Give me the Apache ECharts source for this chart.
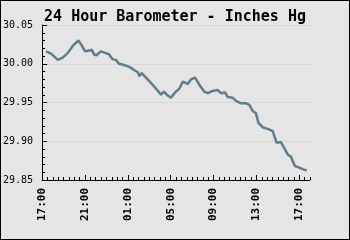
<!DOCTYPE html>
<html>
<head>
<meta charset="utf-8">
<script src="https://cdn.jsdelivr.net/npm/echarts@6/dist/echarts.min.js"></script>
<style>
  html, body { margin: 0; padding: 0; background: #e5e5e5; }
  #wrap { position: relative; width: 350px; height: 240px; box-sizing: border-box; border: 1px solid #000; overflow: hidden; }
  #chart { position: absolute; left: -1px; top: -1px; width: 350px; height: 240px; }
</style>
</head>
<body>
<div id="wrap"><div id="chart"></div></div>
<script>
// Hours since 17:00 on the first day
const hours = [0.37, 0.84, 1.46, 1.93, 2.40, 2.86, 3.39, 3.64, 4.01, 4.41, 4.64, 4.85, 5.07, 5.48, 5.88, 6.25, 6.56, 6.88, 7.18, 7.49, 7.96, 8.27, 8.58, 8.93, 9.08, 9.30, 9.70, 10.17, 10.63, 11.10, 11.35, 11.73, 12.03, 12.34, 12.81, 13.13, 13.59, 13.90, 14.27, 14.67, 15.14, 15.46, 15.92, 16.39, 16.70, 17.07, 17.32, 17.79, 18.10, 18.56, 19.03, 19.34, 19.66, 19.96, 20.18, 20.59, 21.05, 21.52, 21.74, 21.89, 22.29, 22.60, 22.92, 23.23, 23.39, 23.60, 24.00, 24.32, 24.47, 24.69];
// Barometer, inches Hg
const pressure = [30.016, 30.013, 30.005, 30.008, 30.014, 30.023, 30.030, 30.025, 30.016, 30.017, 30.018, 30.012, 30.011, 30.016, 30.014, 30.012, 30.006, 30.005, 30.000, 29.999, 29.997, 29.995, 29.992, 29.989, 29.984, 29.988, 29.982, 29.975, 29.968, 29.960, 29.964, 29.959, 29.956, 29.962, 29.968, 29.977, 29.974, 29.980, 29.982, 29.973, 29.964, 29.962, 29.965, 29.966, 29.962, 29.963, 29.957, 29.956, 29.952, 29.949, 29.949, 29.947, 29.939, 29.936, 29.924, 29.918, 29.916, 29.913, 29.904, 29.898, 29.899, 29.891, 29.883, 29.880, 29.874, 29.868, 29.866, 29.864, 29.866, 29.862];
const xTickHours = [0, 4, 8, 12, 16, 20, 24];
const xTickLabels = ['17:00', '21:00', '01:00', '05:00', '09:00', '13:00', '17:00'];
const yTickValues = [29.85, 29.90, 29.95, 30.00, 30.05];
const yTickLabels = ['29.85', '29.90', '29.95', '30.00', '30.05'];
const titleText = '24 Hour Barometer - Inches Hg';

const chart = echarts.init(document.getElementById('chart'), null, { renderer: 'canvas' });
const mono = 'DejaVu Sans Mono';
const seriesData = hours.map((h, i) => [h, pressure[i]]);

chart.setOption({
  backgroundColor: '#e5e5e5',
  animation: false,
  title: {
    text: titleText, left: 'center', top: 5,
    textStyle: { fontFamily: mono, fontSize: 15, fontWeight: 'bold', color: '#000' }
  },
  grid: { left: 42, top: 25, width: 268, height: 155, containLabel: false },
  xAxis: [
    {
      type: 'value', min: 0, max: 25, interval: 0.5,
      axisLine: { show: true, lineStyle: { color: '#000', width: 1 } },
      axisTick: { show: true, inside: true, length: 3, lineStyle: { color: '#000' } },
      axisLabel: { show: false },
      splitLine: { show: false }
    },
    {
      type: 'value', min: 0, max: 25, position: 'bottom',
      axisLine: { show: false },
      axisTick: { show: true, inside: true, length: 5, customValues: xTickHours, lineStyle: { color: '#000' } },
      axisLabel: {
        show: true, customValues: xTickHours, rotate: 90, margin: 8,
        fontFamily: mono, fontSize: 11, fontWeight: 'bold', color: '#000',
        formatter: function (v) { const i = xTickHours.indexOf(Math.round(v)); return i >= 0 ? xTickLabels[i] : ''; }
      },
      splitLine: { show: false }
    }
  ],
  yAxis: {
    type: 'value', min: 29.85, max: 30.05, interval: 0.05,
    axisLine: { show: true, lineStyle: { color: '#000', width: 1 } },
    axisTick: { show: true, inside: true, length: 5, lineStyle: { color: '#000' } },
    minorTick: { show: true, splitNumber: 5, length: 3, lineStyle: { color: '#000' } },
    axisLabel: {
      margin: 9, fontFamily: mono, fontSize: 10, color: '#000',
      formatter: function (v) {
        let best = 0, d = 1e9;
        yTickValues.forEach((t, i) => { if (Math.abs(t - v) < d) { d = Math.abs(t - v); best = i; } });
        return yTickLabels[best];
      }
    },
    splitLine: { show: true, lineStyle: { color: '#d7d7d7', width: 1 } }
  },
  series: [{
    type: 'line', xAxisIndex: 0, data: seriesData,
    showSymbol: false, symbol: 'none',
    lineStyle: { color: '#607d8b', width: 2.5 },
    z: 5
  }]
});
</script>
</body>
</html>
